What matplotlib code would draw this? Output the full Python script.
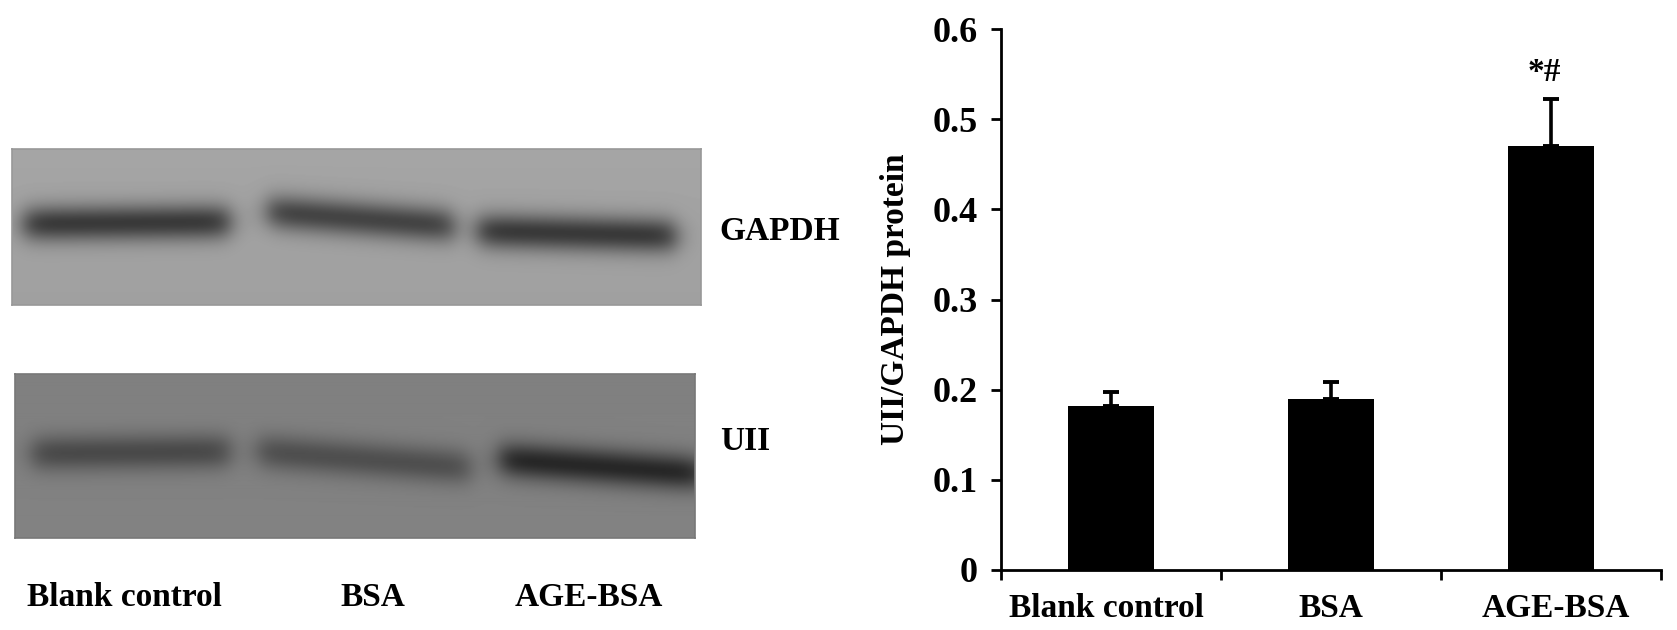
import numpy as np
import matplotlib
matplotlib.use("Agg")
import matplotlib.pyplot as plt

categories = ["Blank control", "BSA", "AGE-BSA"]
means = [0.182, 0.190, 0.470]
upper_errors = [0.015, 0.018, 0.052]
y_ticks = [0, 0.1, 0.2, 0.3, 0.4, 0.5, 0.6]
y_tick_labels = ["0", "0.1", "0.2", "0.3", "0.4", "0.5", "0.6"]
y_label = "UII/GAPDH protein"
annotation = "*#"
blot_names = ["GAPDH", "UII"]

# Band estimates per lane, in reference pixels: x start, x end, y start, y end, darkness
gapdh_bands = [(24, 230, 224, 222, 105), (268, 454, 212, 226, 95), (478, 676, 231, 236, 105)]
uii_bands = [(32, 230, 454, 452, 55), (258, 470, 452, 468, 50), (500, 702, 460, 474, 90)]

W, H = 1677, 630
plt.rcParams["font.family"] = ["Liberation Serif", "DejaVu Serif"]
plt.rcParams["font.weight"] = "bold"
fig = plt.figure(figsize=(W / 100, H / 100), dpi=100)


def px_axes(x0, y0, x1, y1):
    return fig.add_axes([x0 / W, 1 - y1 / H, (x1 - x0) / W, (y1 - y0) / H])


def draw_blot(box, bands, base, slope, edge):
    x0, y0, x1, y1 = box
    ax = px_axes(x0, y0, x1, y1)
    xs, ys = np.meshgrid(np.arange(x0, x1) + 0.5, np.arange(y0, y1) + 0.5)
    img = base + slope * (ys - y0) / (y1 - y0)
    for bx0, bx1, by0, by1, dark in bands:
        t = (xs - bx0) / (bx1 - bx0)
        centre = by0 + (by1 - by0) * np.clip(t, 0, 1)
        across = np.exp(-((ys - centre) / 18.0) ** 2)
        along = 0.5 * (np.tanh((xs - bx0) / 13.0) - np.tanh((xs - bx1) / 13.0))
        img = img - dark * across * along
    ax.imshow(img, cmap="gray", vmin=0, vmax=255, aspect="auto",
              extent=(x0, x1, y1, y0), interpolation="bilinear")
    ax.set_xticks([])
    ax.set_yticks([])
    for s in ax.spines.values():
        s.set_color(edge)
        s.set_linewidth(1.2)


draw_blot((12, 149, 701, 305), gapdh_bands, 165, -5, "#989898")
draw_blot((15, 374, 695, 538), uii_bands, 128, 2, "#787878")


def px_text(x, y, s, size, **kw):
    fig.text(x / W, 1 - y / H, s, fontsize=size, ha="center", va="center", **kw)


px_text(780, 231, blot_names[0], 24)
px_text(745, 442, blot_names[1], 24)
px_text(124, 597, categories[0], 24)
px_text(373, 597, categories[1], 24)
px_text(589, 597, categories[2], 24)

# Bar chart
ax = px_axes(1001, 29, 1661, 570)
pos = np.arange(len(categories))
ax.bar(pos, means, width=0.39, color="black", zorder=3)
ax.errorbar(pos, means, yerr=[np.zeros(len(means)), upper_errors], fmt="none",
            ecolor="black", elinewidth=2.6, capsize=5.5, capthick=2.8, zorder=2)
ax.set_xlim(-0.5, 2.5)
ax.set_ylim(0, 0.6)
for s in ("top", "right"):
    ax.spines[s].set_visible(False)
for s in ("left", "bottom"):
    ax.spines[s].set_linewidth(2.0)
ax.set_yticks(y_ticks)
ax.set_yticklabels(y_tick_labels, fontsize=26)
ax.tick_params(axis="y", length=7.5, width=2.0, pad=9)
ax.set_xticks(np.arange(len(categories) + 1) - 0.5)
ax.set_xticklabels([])
ax.tick_params(axis="x", which="major", length=7.5, width=2.0)
ax.set_xticks(pos + np.array([-0.02, 0, 0.02]), minor=True)
ax.set_xticklabels(categories, minor=True, fontsize=24)
ax.tick_params(axis="x", which="minor", length=0, pad=16.5)
ax.set_ylabel(y_label, fontsize=24, labelpad=16, fontweight="bold")
ax.annotate(annotation, (pos[2], means[2] + upper_errors[2]), xytext=(-5, 8),
            textcoords="offset points", ha="center", va="bottom", fontsize=24)
fig.savefig("out.png", dpi=100, facecolor="white")
